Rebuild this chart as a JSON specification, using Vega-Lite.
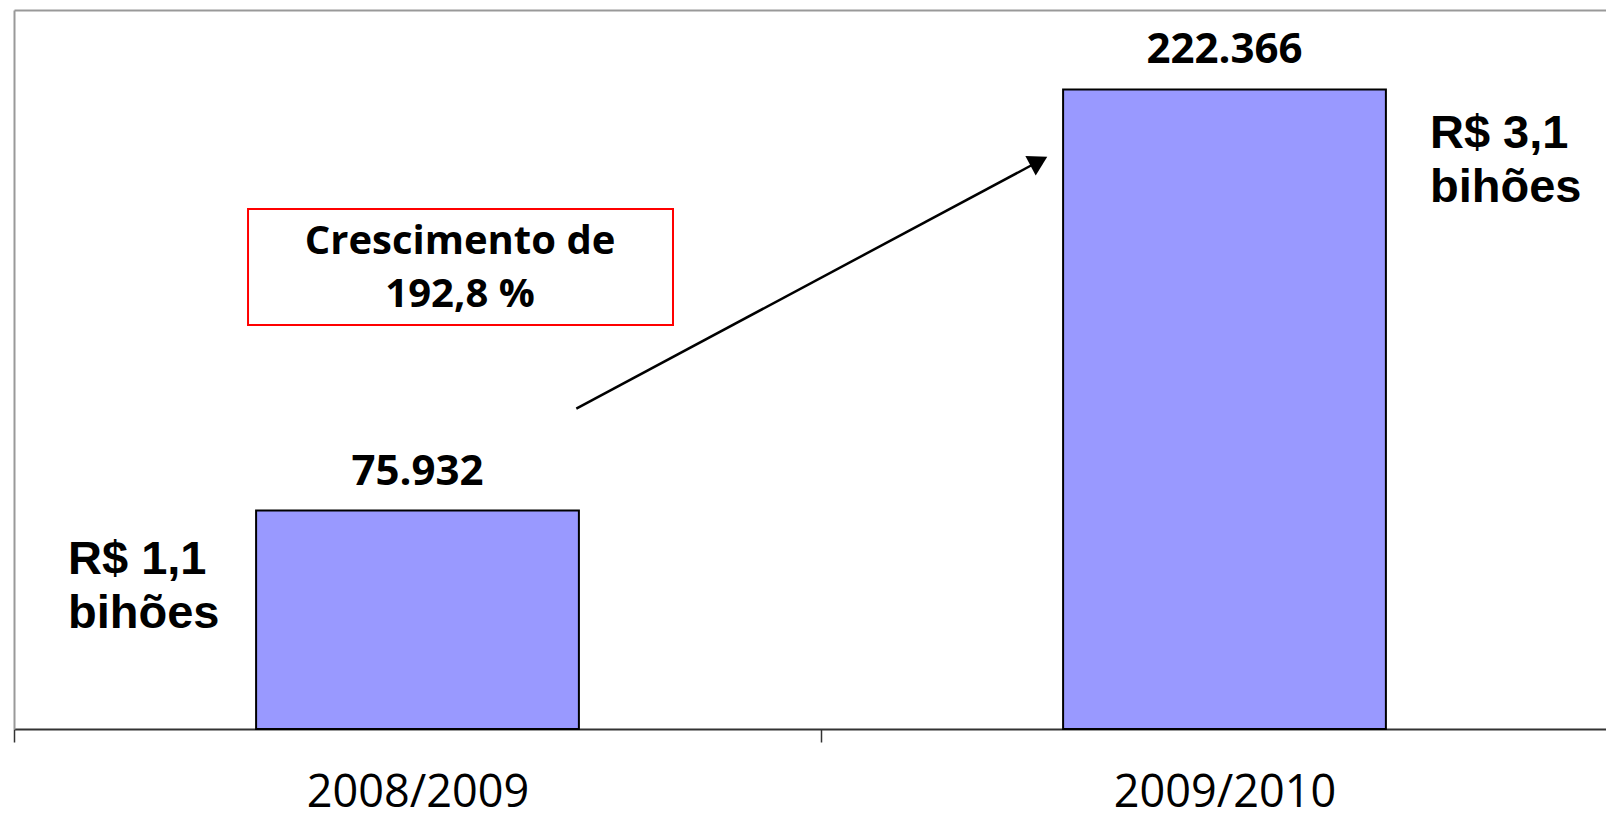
{
  "$schema": "https://vega.github.io/schema/vega-lite/v6.json",
  "width": 1592,
  "height": 719,
  "autosize": {"type": "none"},
  "padding": {"left": 14, "top": 10, "right": 0, "bottom": 90},
  "background": "white",
  "config": {
    "view": {"stroke": null},
    "locale": {"number": {"decimal": ",", "thousands": ".", "grouping": [3], "currency": ["R$ ", ""]}}
  },
  "datasets": {
    "bars": [
      {"periodo": "2008/2009", "valor": 75932},
      {"periodo": "2009/2010", "valor": 222366}
    ],
    "rotulos": [
      {"texto": ["R$ 1,1", "bihões"], "px": 0.0669, "py": 54068},
      {"texto": ["R$ 3,1", "bihões"], "px": 1.7546, "py": 201843}
    ],
    "caixa": [{"x1": 0.29, "x2": 0.8166, "y1": 140473, "y2": 180807}],
    "caixaTexto": [{"texto": ["Crescimento de", "192,8 %"], "px": 0.5527, "py": 165160}],
    "seta": [{"x1": 0.6968, "y1": 111405, "x2": 1.2614, "y2": 196100}],
    "pontaSeta": [{"px": 1.2700, "py": 197400}]
  },
  "resolve": {"scale": {"x": "independent"}, "axis": {"x": "independent"}},
  "layer": [
    {
      "data": {"name": "bars"},
      "layer": [
        {
          "mark": {"type": "bar", "width": {"band": 0.4}, "fill": "#9999FF", "stroke": "#000000", "strokeWidth": 2},
          "encoding": {
            "x": {
              "field": "periodo", "type": "nominal", "title": null,
              "scale": {"paddingInner": 0, "paddingOuter": 0, "range": [0, 1614]},
              "axis": {"orient": "bottom", "title": null, "tickBand": "extent", "domainColor": "#333333", "domainWidth": 2, "tickColor": "#333333", "tickWidth": 1.5, "tickSize": 13, "labelFont": "Open Sans", "labelFontSize": 45, "labelColor": "#000000", "labelBaseline": "alphabetic", "labelPadding": 64, "labelAngle": 0, "labelLimit": 0, "grid": false}
            },
            "y": {
              "field": "valor", "type": "quantitative", "title": null,
              "scale": {"domain": [0, 250000], "nice": false, "zero": true},
              "axis": {"title": null, "domainColor": "#999999", "domainWidth": 2, "ticks": false, "labels": false, "grid": false}
            }
          }
        },
        {
          "mark": {"type": "text", "dy": -26, "baseline": "alphabetic", "align": "center", "font": "Open Sans", "fontWeight": "bold", "fontSize": 42, "color": "#000000"},
          "encoding": {
            "x": {"field": "periodo", "type": "nominal", "title": null},
            "y": {"field": "valor", "type": "quantitative", "title": null},
            "text": {"field": "valor", "type": "quantitative", "format": ",d"}
          }
        }
      ]
    },
    {
      "layer": [
        {
          "data": {"name": "caixa"},
          "mark": {"type": "rect", "fill": "transparent", "stroke": "#FF0000", "strokeWidth": 2},
          "encoding": {
            "x": {"field": "x1", "type": "quantitative", "title": null, "scale": {"domain": [0, 2], "range": [0, 1614], "nice": false, "zero": false}, "axis": {"orient": "top", "title": null, "domainColor": "#999999", "domainWidth": 2, "ticks": false, "labels": false, "grid": false}},
            "x2": {"field": "x2"},
            "y": {"field": "y1", "type": "quantitative", "title": null},
            "y2": {"field": "y2"}
          }
        },
        {
          "data": {"name": "caixaTexto"},
          "mark": {"type": "text", "baseline": "alphabetic", "align": "center", "font": "Open Sans", "fontWeight": "bold", "fontSize": 40, "lineHeight": 53, "color": "#000000"},
          "encoding": {
            "x": {"field": "px", "type": "quantitative", "title": null},
            "y": {"field": "py", "type": "quantitative", "title": null},
            "text": {"field": "texto"}
          }
        },
        {
          "data": {"name": "rotulos"},
          "mark": {"type": "text", "baseline": "alphabetic", "align": "left", "font": "Liberation Sans", "fontWeight": "bold", "fontSize": 47, "lineHeight": 54, "color": "#000000"},
          "encoding": {
            "x": {"field": "px", "type": "quantitative", "title": null},
            "y": {"field": "py", "type": "quantitative", "title": null},
            "text": {"field": "texto"}
          }
        },
        {
          "data": {"name": "seta"},
          "mark": {"type": "rule", "stroke": "#000000", "strokeWidth": 2.5},
          "encoding": {
            "x": {"field": "x1", "type": "quantitative", "title": null},
            "x2": {"field": "x2"},
            "y": {"field": "y1", "type": "quantitative", "title": null},
            "y2": {"field": "y2"}
          }
        },
        {
          "data": {"name": "pontaSeta"},
          "mark": {"type": "point", "shape": "triangle-right", "filled": true, "fill": "#000000", "opacity": 1, "strokeWidth": 0, "size": 480, "angle": -28.2},
          "encoding": {
            "x": {"field": "px", "type": "quantitative", "title": null},
            "y": {"field": "py", "type": "quantitative", "title": null}
          }
        }
      ]
    }
  ]
}
